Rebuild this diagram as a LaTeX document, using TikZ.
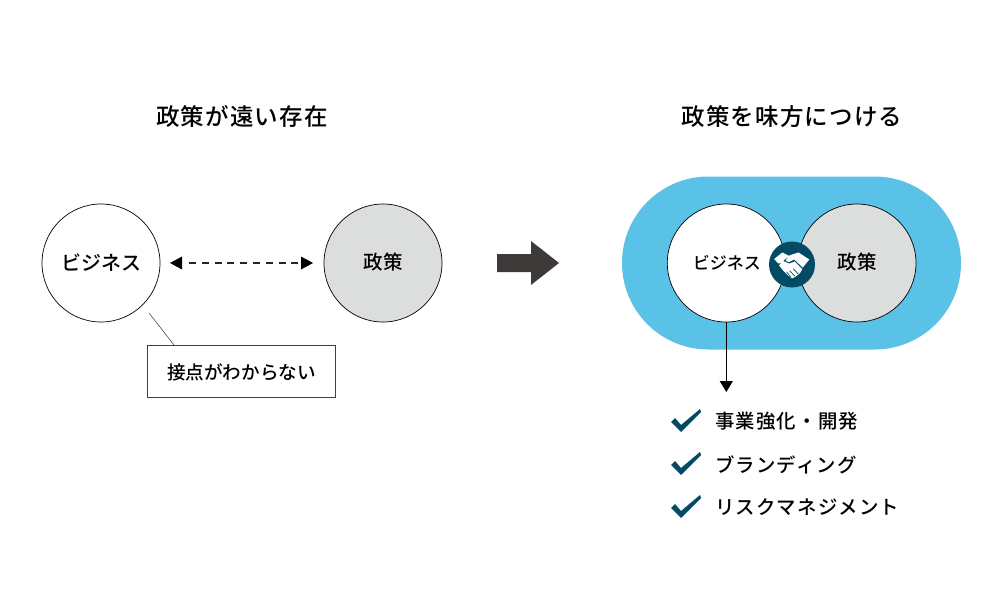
\documentclass[tikz,border=0pt]{standalone}
\usepackage{fontspec}
\setmainfont{Noto Sans CJK JP}
\newfontfamily\jpT[LetterSpace=5]{Noto Sans CJK JP Medium}
\newfontfamily\jpN{Noto Sans CJK JP Medium}
\newfontfamily\jpL[LetterSpace=6]{Noto Sans CJK JP Medium}
\usetikzlibrary{arrows.meta}
\definecolor{skyc}{HTML}{5BC2E7}
\definecolor{navyc}{HTML}{034A64}
\definecolor{greyc}{HTML}{DCDDDD}
\definecolor{darkarrow}{HTML}{3E3A39}
\tikzset{
 x=1pt,y=-1pt,
 circ/.style={circle,draw=black,line width=0.7pt,minimum size=118pt,inner sep=0pt},
 title/.style={inner sep=0pt,font=\jpT\fontsize{23.5}{23.5}\selectfont},
 lbl/.style={inner sep=0pt,font=\jpN\fontsize{19.5}{19.5}\selectfont},
 listitem/.style={anchor=west,inner sep=0pt,font=\jpL\fontsize{19.4}{19.4}\selectfont},
 checkm/.style={fill=navyc,draw=none},
 headtip/.style={fill=black,draw=none},
}
\newcommand{\checkmk}[2]{\fill[checkm] (#1+0,#2+1) -- (#1+4,#2-3) -- (#1+10,#2+4) -- (#1+29,#2-12) -- (#1+30,#2-9) -- (#1+10,#2+11) -- cycle;}
\begin{document}
\begin{tikzpicture}
\useasboundingbox (0,0) rectangle (1000,600);
\fill[white] (0,0) rectangle (1000,600);
% titles
\node[title] (t1) at (242,116.5) {政策が遠い存在};
\node[title] (t2) at (792,116.5) {政策を味方につける};
% left
\node[circ,fill=white] (a) at (101,263) {};
\node[lbl,font=\jpN\fontsize{20}{20}\selectfont] at (101.3,262.5) {ビジネス};
\node[circ,fill=greyc] (b) at (383,263) {};
\node[lbl] at (383,262.5) {政策};
\coordinate (p) at (189,263);
\coordinate (q) at (301,263);
\draw[line width=1.2pt,black!85,dash pattern=on 7pt off 5.8pt] (p) -- (q);
\fill[headtip] (170,263) -- (182,256.5) -- (182,269.5) -- cycle;
\fill[headtip] (313,263) -- (301,256.5) -- (301,269.5) -- cycle;
\node[draw=black!75,line width=0.7pt,fill=white,minimum width=188pt,minimum height=52pt,inner sep=0pt] (c) at (241,371.5) {};
\node[inner sep=0pt,font=\jpN\fontsize{18.6}{18.6}\selectfont] at (241.5,372) {接点がわからない};
\coordinate (l) at (149,313);
\coordinate (lb) at (174,345);
\draw[line width=0.5pt,black!80] (l) -- (lb);
% big arrow
\fill[darkarrow] (497,254) -- (531,254) -- (531,241) -- (559,263) -- (531,285) -- (531,272) -- (497,272) -- cycle;
% right
\fill[skyc,rounded corners=86.5pt] (622,176.5) rectangle (961,349.5);
\node[circ,fill=greyc] (e) at (857,263) {};
\node[circ,fill=white] (d) at (726.3,263) {};
\node[lbl,font=\jpN\fontsize{17}{17}\selectfont] at (726.8,262.5) {ビジネス};
\node[lbl] at (857,262.5) {政策};
\node[circle,fill=navyc,minimum size=46pt,inner sep=0pt] (h) at (792,264.5) {};
% handshake
\begin{scope}[shift={(792,266.5)},scale=1.08]
\fill[white] (-16.5,-7) -- (-9,-13) -- (-2,-9.5) -- (-7.5,-6) -- (-9,-3) -- (-13,-3) -- cycle;
\fill[white] (-2,-10.5) -- (6,-13) -- (16,-6.5) -- (10,1) -- (2,-6.5) -- (-3,-4) -- (-6,-5.5) -- cycle;
\fill[white] (-12,-1) -- (-8,-5) -- (-3,-3) -- (2,-5) -- (9.5,2.5) -- (7.5,6) -- (4,9) -- (0,11) -- (-4,8) -- (-8,4) -- cycle;
\draw[navyc,line width=0.7pt] (-3,-3) -- (2,-5) (1,2) -- (6,7) (-2,4) -- (2.5,9) (-5,5) -- (-1,10);
\end{scope}
% connector
\coordinate (m) at (726.3,392);
\draw[line width=0.9pt,-{Triangle[length=11pt,width=13pt]}] (d.south) -- (m);
% list
\checkmk{671}{421}
\checkmk{671}{464}
\checkmk{671}{507}
\node[listitem] (i1) at (715,421.5) {事業強化・開発};
\node[listitem] (i2) at (715,464.5) {ブランディング};
\node[listitem] (i3) at (715,507.5) {リスクマネジメント};
\end{tikzpicture}
\end{document}
